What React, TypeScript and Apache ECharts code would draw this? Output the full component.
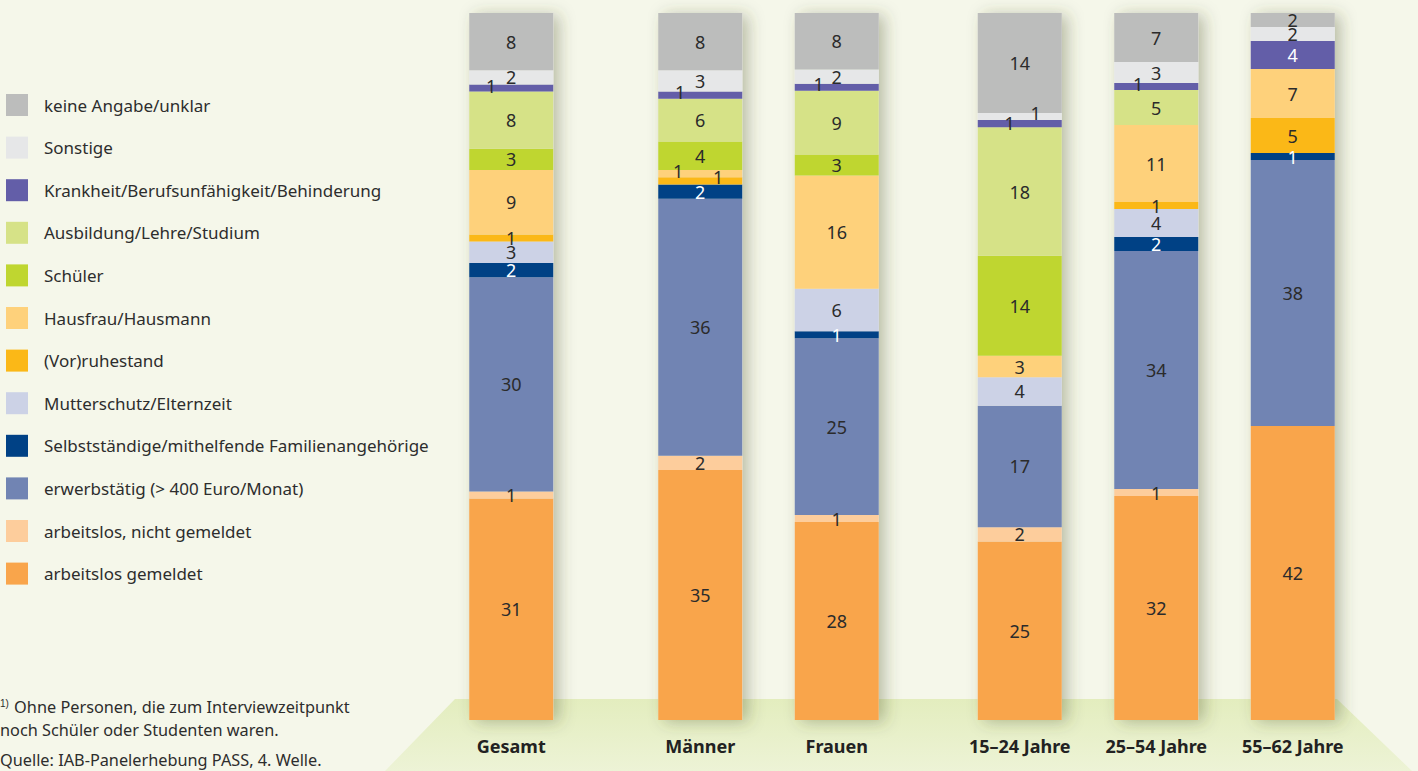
import React, { useEffect, useRef } from "react";
import * as echarts from "echarts";

// ---- data ----
const categories = ["Gesamt", "Männer", "Frauen", "15–24 Jahre", "25–54 Jahre", "55–62 Jahre"];

// series, bottom to top
const arbeitslosGemeldet = [31, 35, 28, 25, 32, 42];
const arbeitslosNichtGemeldet = [1, 2, 1, 2, 1, 0];
const erwerbstaetig = [30, 36, 25, 17, 34, 38];
const selbststaendige = [2, 2, 1, 0, 2, 1];
const mutterschutz = [3, 0, 6, 4, 4, 0];
const vorruhestand = [1, 1, 0, 0, 1, 5];
const hausfrau = [9, 1, 16, 3, 11, 7];
const schueler = [3, 4, 3, 14, 0, 0];
const ausbildung = [8, 6, 9, 18, 5, 0];
const krankheit = [1, 1, 1, 1, 1, 4];
const sonstige = [2, 3, 2, 1, 3, 2];
const keineAngabe = [8, 8, 8, 14, 7, 2];

// ---- layout / style ----
const GROUPS = [[0], [1, 2], [3, 4, 5]]; // category indices per bar group
const GRID_LEFT = [443, 632, 951.5];
const BAND = 136.5;
const FONT = "Noto Sans";

const seriesDefs = [
  { name: "arbeitslos gemeldet", data: arbeitslosGemeldet, color: "#f9a54b" },
  { name: "arbeitslos, nicht gemeldet", data: arbeitslosNichtGemeldet, color: "#fdcd9c" },
  { name: "erwerbstätig (> 400 Euro/Monat)", data: erwerbstaetig, color: "#7184b3" },
  { name: "Selbstständige/mithelfende Familienangehörige", data: selbststaendige, color: "#004185" },
  { name: "Mutterschutz/Elternzeit", data: mutterschutz, color: "#ccd2e6" },
  { name: "(Vor)ruhestand", data: vorruhestand, color: "#fbb817" },
  { name: "Hausfrau/Hausmann", data: hausfrau, color: "#fed17b" },
  { name: "Schüler", data: schueler, color: "#bfd630" },
  { name: "Ausbildung/Lehre/Studium", data: ausbildung, color: "#d6e287" },
  { name: "Krankheit/Berufsunfähigkeit/Behinderung", data: krankheit, color: "#635ea8" },
  { name: "Sonstige", data: sonstige, color: "#e6e7e8" },
  { name: "keine Angabe/unklar", data: keineAngabe, color: "#bcbdbc" },
];

const labelOffsets: Record<string, Record<number, number[]>> = {
  "Krankheit/Berufsunfähigkeit/Behinderung": { 0: [-20, -2], 1: [-20, -3], 2: [-18, -3], 3: [-10, -1], 4: [-18, -3] },
  "Hausfrau/Hausmann": { 1: [-22, -3] },
  "(Vor)ruhestand": { 1: [18, -4] },
  Sonstige: { 3: [16, -4] },
};

export default function App() {
  const ref = useRef<HTMLDivElement>(null);

  useEffect(() => {
    if (!ref.current) return;
    const chart = echarts.init(ref.current, null, { renderer: "svg" });

    const totals = categories.map((_, ci) => seriesDefs.reduce((s, d) => s + d.data[ci], 0));
    const nG = GROUPS.length;

    const grids = GROUPS.map((g, gi) => ({
      left: GRID_LEFT[gi],
      width: BAND * g.length,
      top: 13,
      bottom: 51,
      containLabel: false,
    }));

    const xAxes: any[] = [];
    GROUPS.forEach((g, gi) => {
      xAxes.push({
        type: "category",
        gridIndex: gi,
        data: g.map((ci) => categories[ci]),
        axisLine: { show: false },
        axisTick: { show: false },
        axisLabel: {
          interval: 0,
          margin: 17,
          fontFamily: FONT,
          fontSize: 18,
          fontWeight: "bold",
          color: "#222222",
        },
      });
    });
    GROUPS.forEach((g, gi) => {
      xAxes.push({
        type: "category",
        gridIndex: gi,
        data: g.map((ci) => categories[ci]),
        show: false,
      });
    });
    const yAxes = GROUPS.map((_, gi) => ({ type: "value", gridIndex: gi, min: 0, max: 100, show: false }));

    const series: any[] = [];
    GROUPS.forEach((g, gi) => {
      series.push({
        name: "__shadow",
        type: "bar",
        xAxisIndex: nG + gi,
        yAxisIndex: gi,
        barWidth: 84,
        silent: true,
        z: 1,
        data: g.map(() => 100),
        itemStyle: {
          color: "#e9ecde",
          shadowColor: "rgba(70,80,40,0.35)",
          shadowBlur: 16,
          shadowOffsetX: 6,
          shadowOffsetY: 2,
        },
        label: { show: false },
      });
      seriesDefs.forEach((d) => {
        series.push({
          name: d.name,
          type: "bar",
          stack: "total" + gi,
          xAxisIndex: gi,
          yAxisIndex: gi,
          barWidth: 84,
          z: 3,
          itemStyle: { color: d.color },
          data: g.map((ci) => {
            const v = d.data[ci];
            if (!v) return { value: null, raw: 0 };
            const off = labelOffsets[d.name]?.[ci] || [0, 0];
            const white =
              d.name.startsWith("Selbstständige") || (d.name.startsWith("Krankheit") && v >= 3);
            return {
              value: (v / totals[ci]) * 100,
              raw: v,
              label: { offset: off, color: white ? "#ffffff" : "#2b2b2b" },
            };
          }),
          label: {
            show: true,
            position: "inside",
            fontFamily: FONT,
            fontSize: 18,
            formatter: (p: any) => (p.data && p.data.raw ? String(p.data.raw) : ""),
          },
        });
      });
    });

    const option: any = {
      animation: false,
      backgroundColor: "#f5f7ea",
      textStyle: { fontFamily: FONT },
      grid: grids,
      legend: {
        orient: "vertical",
        left: 6,
        top: 94,
        padding: 0,
        itemWidth: 22,
        itemHeight: 22,
        itemGap: 20.6,
        icon: "rect",
        selectedMode: false,
        data: seriesDefs.map((d) => d.name).reverse(),
        textStyle: { fontFamily: FONT, fontSize: 17, color: "#2d2d2d", padding: [0, 0, 0, 11] },
      },
      xAxis: xAxes,
      yAxis: yAxes,
      graphic: [
        {
          type: "polygon",
          z: -1,
          silent: true,
          shape: { points: [[455, 699], [1337, 699], [1412, 771], [385, 771]] },
          style: {
            fill: {
              type: "linear",
              x: 0, y: 0, x2: 0, y2: 1,
              colorStops: [
                { offset: 0, color: "#e3edbe" },
                { offset: 1, color: "#edf3d6" },
              ],
            },
          },
        },
        {
          type: "text",
          left: 0,
          top: 698,
          silent: true,
          style: {
            text: "{sup|1)} Ohne Personen, die zum Interviewzeitpunkt",
            fontFamily: FONT,
            fontSize: 16.3,
            fill: "#2d2d2d",
            rich: {
              sup: { fontSize: 10, verticalAlign: "top", padding: [0, 1, 8, 0] },
            },
          },
        },
        {
          type: "text",
          left: 0,
          top: 722,
          silent: true,
          style: { text: "noch Schüler oder Studenten waren.", fontFamily: FONT, fontSize: 16.3, fill: "#2d2d2d" },
        },
        {
          type: "text",
          left: 0,
          top: 752,
          silent: true,
          style: { text: "Quelle: IAB-Panelerhebung PASS, 4. Welle.", fontFamily: FONT, fontSize: 16.3, fill: "#2d2d2d" },
        },
      ],
      series,
    };

    chart.setOption(option);
    return () => chart.dispose();
  }, []);

  return (
    <div
      ref={ref}
      style={{ position: "absolute", left: 0, top: 0, width: 1418, height: 771 }}
    />
  );
}
